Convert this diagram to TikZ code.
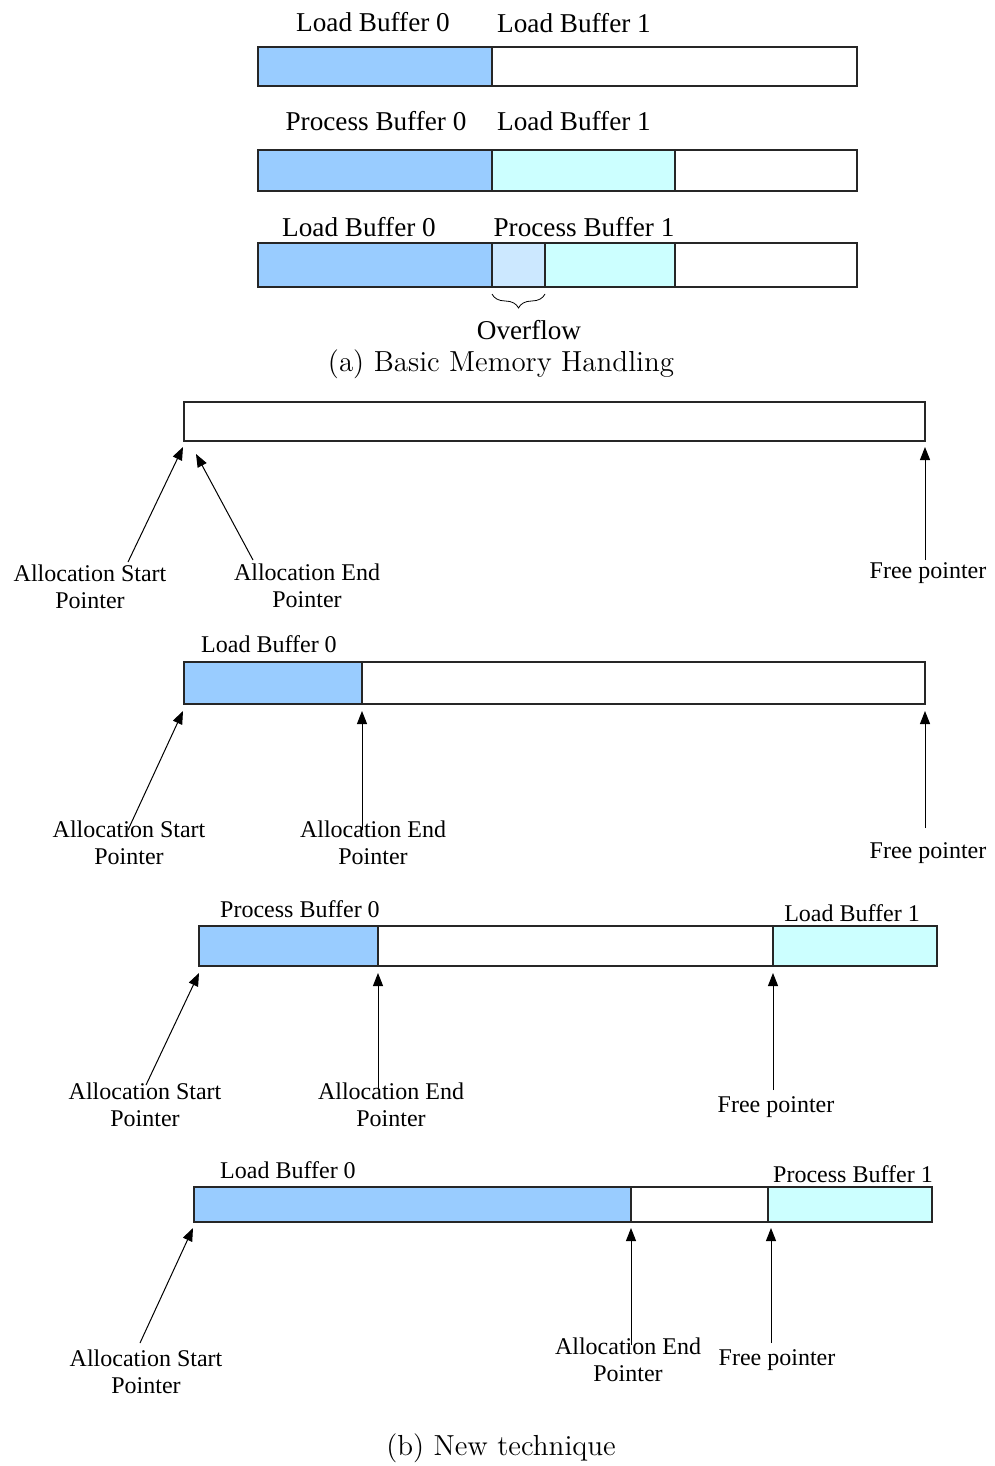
\documentclass[tikz,border=0pt]{standalone}
\usepackage{fontspec}
\newfontfamily\lab{Liberation Serif}
\usetikzlibrary{arrows.meta,decorations.pathreplacing}
\definecolor{bufblue}{HTML}{99CCFF}
\definecolor{bufcyan}{HTML}{CCFFFF}
\definecolor{ovfl}{HTML}{CCE8FF}
\definecolor{edge}{HTML}{262626}
\tikzset{
  seg/.style={draw=edge, line width=0.6pt},
  ptr/.style={-{Triangle[length=6.5pt,width=5pt]}, line width=0.5pt},
  labA/.style={font=\lab\fontsize{13.6}{16}\selectfont, inner sep=0pt, anchor=base},
  labB/.style={font=\lab\fontsize{12}{13.5}\selectfont, inner sep=0pt, align=center},
  capt/.style={font=\fontsize{14.5}{17}\selectfont, inner sep=0pt, anchor=base},
}
\begin{document}
\begin{tikzpicture}[x=0.5pt,y=-0.5pt]
\useasboundingbox (0,0) rectangle (995,1466);

% ---------------- (a) ----------------
% bar 1
\filldraw[seg, fill=bufblue] (258,47) rectangle (492,86);
\filldraw[seg, fill=white] (492,47) rectangle (857,86);
\node[labA] (a1l) at (373,32) {Load Buffer 0};
\node[labA] (a1r) at (574,33) {Load Buffer 1};
% bar 2
\filldraw[seg, fill=bufblue] (258,150) rectangle (492,191);
\filldraw[seg, fill=bufcyan] (492,150) rectangle (675,191);
\filldraw[seg, fill=white] (675,150) rectangle (857,191);
\node[labA] (a2l) at (376,131) {Process Buffer 0};
\node[labA] (a2r) at (574,131) {Load Buffer 1};
% bar 3
\filldraw[seg, fill=bufblue] (258,243) rectangle (492,287);
\filldraw[seg, fill=ovfl] (492,243) rectangle (545,287);
\filldraw[seg, fill=bufcyan] (545,243) rectangle (675,287);
\filldraw[seg, fill=white] (675,243) rectangle (857,287);
\node[labA] (a3l) at (359,236) {Load Buffer 0};
\node[labA] (a3r) at (584,236) {Process Buffer 1};
\coordinate (ovl) at (492,294);
\coordinate (ovr) at (545,294);
\draw[line width=0.4pt, decorate, decoration={brace, mirror, amplitude=7pt}] (ovl) -- (ovr);
\node[labA] (ovf) at (529,339) {Overflow};
\node[capt] (capa) at (501,371) {(a) Basic Memory Handling};

% ---------------- (b) bar 1 ----------------
\filldraw[seg, fill=white] (184,402) rectangle (925,441);
\node[labB] (s1) at (90,587) {Allocation Start\\Pointer};
\node[labB] (e1) at (307,586) {Allocation End\\Pointer};
\node[labB, anchor=base] (f1) at (928,578) {Free pointer};
\coordinate (s1a) at (128,562); \coordinate (s1b) at (183,447);
\coordinate (e1a) at (253,560); \coordinate (e1b) at (196,454);
\coordinate (f1a) at (925,560); \coordinate (f1b) at (925,447);
\draw[ptr] (s1a) -- (s1b);
\draw[ptr] (e1a) -- (e1b);
\draw[ptr] (f1a) -- (f1b);

% ---------------- (b) bar 2 ----------------
\filldraw[seg, fill=bufblue] (184,662) rectangle (362,704);
\filldraw[seg, fill=white] (362,662) rectangle (925,704);
\node[labB, anchor=base] (l2) at (269,652) {Load Buffer 0};
\node[labB] (s2) at (129,843) {Allocation Start\\Pointer};
\node[labB] (e2) at (373,843) {Allocation End\\Pointer};
\node[labB, anchor=base] (f2) at (928,858) {Free pointer};
\coordinate (s2a) at (128,830); \coordinate (s2b) at (183,711);
\coordinate (e2a) at (362,830); \coordinate (e2b) at (362,711);
\coordinate (f2a) at (925,828); \coordinate (f2b) at (925,711);
\draw[ptr] (s2a) -- (s2b);
\draw[ptr] (e2a) -- (e2b);
\draw[ptr] (f2a) -- (f2b);

% ---------------- (b) bar 3 ----------------
\filldraw[seg, fill=bufblue] (199,926) rectangle (378,966);
\filldraw[seg, fill=white] (378,926) rectangle (773,966);
\filldraw[seg, fill=bufcyan] (773,926) rectangle (937,966);
\node[labB, anchor=base] (p3) at (300,917) {Process Buffer 0};
\node[labB, anchor=base] (l3) at (852,921) {Load Buffer 1};
\node[labB] (s3) at (145,1105) {Allocation Start\\Pointer};
\node[labB] (e3) at (391,1105) {Allocation End\\Pointer};
\node[labB, anchor=base] (f3) at (776,1112) {Free pointer};
\coordinate (s3a) at (146,1085); \coordinate (s3b) at (199,973);
\coordinate (e3a) at (378,1090); \coordinate (e3b) at (378,973);
\coordinate (f3a) at (773,1090); \coordinate (f3b) at (773,973);
\draw[ptr] (s3a) -- (s3b);
\draw[ptr] (e3a) -- (e3b);
\draw[ptr] (f3a) -- (f3b);

% ---------------- (b) bar 4 ----------------
\filldraw[seg, fill=bufblue] (194,1187) rectangle (631,1222);
\filldraw[seg, fill=white] (631,1187) rectangle (768,1222);
\filldraw[seg, fill=bufcyan] (768,1187) rectangle (932,1222);
\node[labB, anchor=base] (l4) at (288,1178) {Load Buffer 0};
\node[labB, anchor=base] (p4) at (853,1182) {Process Buffer 1};
\node[labB] (s4) at (146,1372) {Allocation Start\\Pointer};
\node[labB] (e4) at (628,1360) {Allocation End\\Pointer};
\node[labB, anchor=base] (f4) at (777,1365) {Free pointer};
\coordinate (s4a) at (140,1343); \coordinate (s4b) at (193,1228);
\coordinate (e4a) at (631,1345); \coordinate (e4b) at (631,1228);
\coordinate (f4a) at (771,1343); \coordinate (f4b) at (771,1228);
\draw[ptr] (s4a) -- (s4b);
\draw[ptr] (e4a) -- (e4b);
\draw[ptr] (f4a) -- (f4b);

\node[capt] (capb) at (501,1455) {(b) New technique};
\end{tikzpicture}
\end{document}
